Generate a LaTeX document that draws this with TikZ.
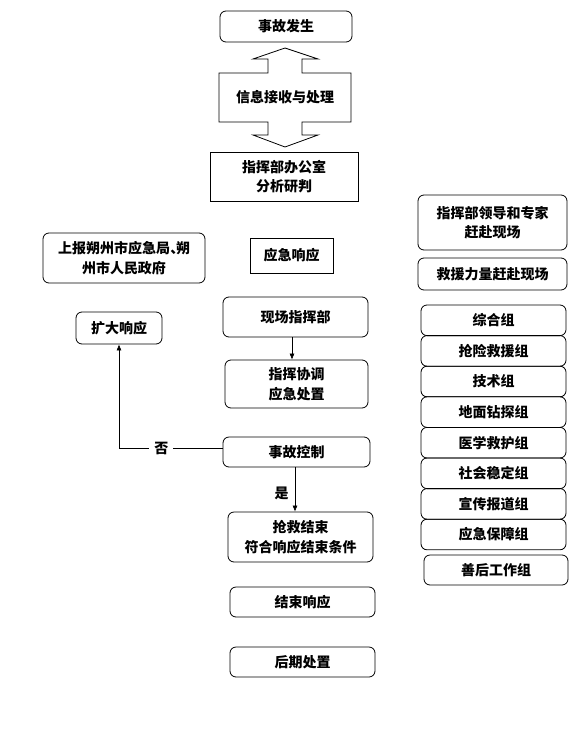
\documentclass[tikz,border=0pt]{standalone}
\usepackage{fontspec}
\newfontfamily\cjk{Noto Sans CJK SC}
\usetikzlibrary{arrows.meta}
\newcommand{\bx}[7]{\node[#2, minimum width={#5-#3}, minimum height={#6-#4}] (#1) at ({(#3+#5)/2},{(#4+#6)/2}) {#7};}
\begin{document}
\begin{tikzpicture}[x=1pt,y=-1pt,
  every node/.style={font=\cjk\bfseries\fontsize{14}{19.5}\selectfont, align=center, inner sep=0pt},
  rbox/.style={draw, rounded corners=6pt, line width=0.8pt},
  sbox/.style={draw, line width=0.8pt},
  arr/.style={-{Latex[length=6pt,width=5pt]}, line width=0.6pt}]
\useasboundingbox[fill=white] (0,0) rectangle (578,742);

% centre column
\bx{n1}{rbox}{220}{11}{352}{42}{事故发生}
\draw[line width=0.8pt] (285,48) -- (318,59) -- (302,59) -- (302,73) -- (351,73) -- (351,122)
  -- (302,122) -- (302,135) -- (318,135) -- (285,147) -- (253,135) -- (268,135) -- (268,122)
  -- (219,122) -- (219,73) -- (268,73) -- (268,59) -- (253,59) -- cycle;
\node (n2) at (285,97.5) {信息接收与处理};
\bx{n3}{sbox}{210}{152}{358}{201}{指挥部办公室\\分析研判}
\bx{n4}{rbox}{43}{233}{205}{283}{上报朔州市应急局\kern0.5pt、\kern-8.5pt朔\\州市人民政府}
\bx{n5}{sbox}{250}{238}{333}{273}{应急响应}
\bx{n6}{rbox}{223}{297}{368}{337}{现场指挥部}
\bx{n7}{rbox}{76}{312}{162}{344}{扩大响应}
\bx{n8}{rbox}{225}{360}{368}{408}{指挥协调\\应急处置}
\bx{n9}{rbox}{223}{437}{370}{467}{事故控制}
\bx{n10}{rbox}{228}{512}{373}{562}{抢救结束\\符合响应结束条件}
\bx{n11}{rbox}{230}{587}{375}{617}{结束响应}
\bx{n12}{rbox}{230}{647}{375}{677}{后期处置}

% right column
\bx{r1}{rbox}{418}{195}{567}{250}{指挥部领导和专家\\赶赴现场}
\bx{r2}{rbox}{418}{258}{567}{290}{救援力量赶赴现场}
\bx{g1}{rbox}{421}{305}{566}{335.6}{综合组}
\bx{g2}{rbox}{421}{335.6}{566}{366.2}{抢险救援组}
\bx{g3}{rbox}{421}{366.2}{566}{396.8}{技术组}
\bx{g4}{rbox}{421}{396.8}{566}{427.4}{地面钻探组}
\bx{g5}{rbox}{421}{427.4}{566}{458}{医学救护组}
\bx{g6}{rbox}{421}{458}{566}{488.6}{社会稳定组}
\bx{g7}{rbox}{421}{488.6}{566}{519.2}{宣传报道组}
\bx{g8}{rbox}{421}{519.2}{566}{549.8}{应急保障组}
\bx{g9}{rbox}{424}{555}{568}{585}{善后工作组}

% connectors
\draw[arr] ([xshift=-3.5pt]n6.south) -- ([xshift=-3.5pt]n6.south |- n8.north);
\draw[arr] ([yshift=4pt]n9.west) -- node[pos=0.59, fill=white, inner xsep=5pt, inner ysep=2pt]{否}
  ([yshift=4pt]n9.west -| n7.south) -- (n7.south);
\draw[arr] ([xshift=-1.5pt]n9.south) -- node[pos=0.58, left=6pt]{是} ([xshift=-1.5pt]n9.south |- n10.north);
\end{tikzpicture}
\end{document}
